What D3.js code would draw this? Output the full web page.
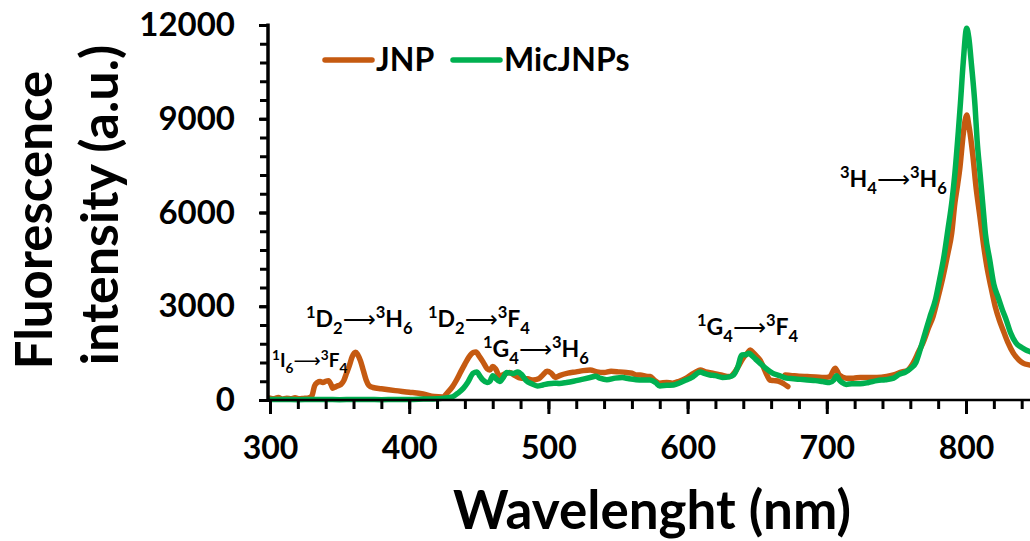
<!DOCTYPE html>
<html><head><meta charset="utf-8">
<script src="https://cdn.jsdelivr.net/npm/d3@7"></script>
<style>
html,body{margin:0;padding:0;background:#fff;}
svg{display:block;}
text{font-family:Lato,"Open Sans",sans-serif;font-weight:bold;fill:#000;}
</style></head>
<body>
<svg id="c" width="1030" height="541"></svg>
<script>
// ---- data ----
const micWavelength = [300,310,320,330,340,350,360,370,380,390,400,410,420,425,431,435,439,442,446,448.5,451,453,456,458,460,462,465,468,470,473,475,478,481,484,488,492,496,500,504,508,513,518,525,530,534,537,542,548,553,558,563,568,573,577,580,585,590,595,599,603,606,609,612,616,620,625,630,633,636,639,642,644,646,649,652,656,661,666,671,676,681,686,692,697,702,705,707,709,711,714,718,724,730,736,742,748,752,756,760,764,767,771,774,778,781,784,787,790,792,794.5,796,798,800.5,802,804,806.5,808,810,812,814,817,820,823,826,829,832,836,840,843,846,850];
const micIntensity = [20,20,10,20,20,10,20,20,10,20,20,30,40,60,100,220,380,560,860,900,750,640,560,600,780,700,590,750,880,860,850,900,800,620,520,450,480,520,540,530,560,600,670,720,760,700,650,700,720,680,650,640,640,560,450,470,480,560,640,720,820,900,850,800,780,720,740,800,1050,1440,1450,1500,1430,1300,1180,1020,860,780,700,680,660,640,620,590,560,640,780,640,560,500,520,520,560,620,650,700,820,880,1000,1200,1600,2200,2650,3200,3850,4550,5450,6400,7250,8600,9500,10800,11900,11600,10700,9400,8300,7300,6300,5300,4500,3700,3300,2900,2550,2150,1820,1680,1600,1550,1500];

const jnpWavelengthA = [300,303,306,309,312,315,318,321,324,327,330,332,334,336,338,340,342,344,345,347,349,351,353,355,357,359,361.5,363,365,367,369,371,374,380,390,400,410,418,424,428,431,434,437,440,443,446,448,450,453,456,458,460,462,465,468,472,476,480,485,489,493,496,499,502,505,508,514,520,525,530,535,540,545,551,556,560,563,566,570,573,576,580,585,589,594,599,603,606,609,613,618,624,630,634,637,640,643,645,647,650,652,655,657,659,662,666,669,672];
const jnpIntensityA = [60,40,80,30,60,40,70,40,50,60,120,450,560,590,560,600,620,480,380,420,460,500,620,860,1100,1380,1530,1450,1250,950,650,470,400,360,300,250,190,110,100,260,420,640,900,1150,1380,1520,1540,1420,1220,1000,960,1070,1000,760,820,880,780,700,680,640,680,800,920,860,720,780,860,900,940,960,900,880,920,900,880,860,800,800,760,750,640,540,560,540,600,700,820,900,960,900,860,800,750,900,1120,1350,1500,1600,1520,1380,1280,1000,800,640,620,590,520,430];
const jnpWavelengthB = [670,675,680,686,692,698,702,706,709,714,719,724,730,736,743,748,754,758,762,766,769,773,776.3,780,783.5,787,789.7,792,794,795.7,798,800.5,802,805,807,810,812.5,815,818,821,824,826.6,830,834,838,841,846,850];
const jnpIntensityB = [800,780,760,750,740,720,740,1020,800,700,700,720,720,720,750,800,900,950,1180,1550,1820,2300,2670,3300,3950,4700,5330,6300,6900,7470,8500,9120,8800,7790,6900,5870,5000,4270,3600,2990,2550,2240,1850,1500,1280,1180,1120,1080];

const xTicks = [300,400,500,600,700,800];
const yTicks = [0,3000,6000,9000,12000];
const seriesNames = ["JNP","MicJNPs"];
const seriesColors = ["#C55A11","#00B050"];

// ---- chart ----
const svg = d3.select("#c");
const x = d3.scaleLinear().domain([300,850]).range([270,1035.6]);
const y = d3.scaleLinear().domain([0,12000]).range([400,25]);

const line = d3.line().x(d=>x(d[0])).y(d=>y(d[1])).curve(d3.curveMonotoneX);
const zip = (a,b)=>a.map((v,i)=>[v,b[i]]);

const plot = svg.append("g");
[[zip(jnpWavelengthA,jnpIntensityA),0],[zip(jnpWavelengthB,jnpIntensityB),0],[zip(micWavelength,micIntensity),1]].forEach(([d,i])=>{
  plot.append("path").datum(d)
    .attr("d",line).attr("fill","none").attr("stroke",seriesColors[i]).attr("stroke-width",5.5)
    .attr("stroke-linejoin","round").attr("stroke-linecap","round");
});

// x axis
const xMinor = d3.range(300,851,20);
const gx = svg.append("g").attr("transform","translate(0,400)");
gx.call(d3.axisBottom(x).tickValues(xMinor).tickSize(9).tickFormat(""))
  .call(g=>g.select(".domain").remove())
  .call(g=>g.selectAll(".tick line").attr("stroke","#000").attr("stroke-width",3));
gx.append("g").call(d3.axisBottom(x).tickValues(xTicks).tickSize(14).tickPadding(22).tickFormat(d3.format("d")))
  .call(g=>g.select(".domain").remove())
  .call(g=>g.selectAll(".tick line").attr("stroke","#000").attr("stroke-width",3))
  .call(g=>g.selectAll(".tick text").attr("font-size",32).attr("font-family","Lato").attr("font-weight","bold").attr("fill","#000"));
gx.append("line").attr("x1",268).attr("x2",1030).attr("y1",0).attr("y2",0).attr("stroke","#000").attr("stroke-width",2.5);

// y axis
const yMinor = d3.range(0,12001,600);
const gy = svg.append("g").attr("transform","translate(268,0)");
gy.call(d3.axisLeft(y).tickValues(yMinor).tickSize(8).tickFormat(""))
  .call(g=>g.select(".domain").remove())
  .call(g=>g.selectAll(".tick line").attr("stroke","#000").attr("stroke-width",3));
gy.append("g").call(d3.axisLeft(y).tickValues(yTicks).tickSize(9).tickPadding(24).tickFormat(d3.format("d")))
  .call(g=>g.select(".domain").remove())
  .call(g=>g.selectAll(".tick line").attr("stroke","#000").attr("stroke-width",3))
  .call(g=>g.selectAll(".tick text").attr("font-size",33).attr("font-family","Lato").attr("font-weight","bold").attr("fill","#000"));
gy.append("line").attr("x1",0).attr("x2",0).attr("y1",23.5).attr("y2",402).attr("stroke","#000").attr("stroke-width",3.5);

// axis titles
svg.append("text").attr("x",652).attr("y",529).attr("text-anchor","middle").attr("font-size",53).text("Wavelenght (nm)");
svg.append("text").attr("transform","translate(52,220) rotate(-90)").attr("text-anchor","middle").attr("font-size",51).text("Fluorescence");
svg.append("text").attr("transform","translate(118,205) rotate(-90)").attr("text-anchor","middle").attr("font-size",52).text("intensity (a.u.)");

// legend
const legX = [325,453];
seriesNames.forEach((n,i)=>{
  svg.append("line").attr("x1",legX[i]).attr("x2",legX[i]+47).attr("y1",60).attr("y2",60)
    .attr("stroke",seriesColors[i]).attr("stroke-width",5.5).attr("stroke-linecap","round");
  svg.append("text").attr("x",legX[i]+51).attr("y",71).attr("font-size",32).text(n);
});

// transition annotations
const annotations = [
  {parts:[["1","sup"],["I",""],["6","sub"],["⟶","arr"],["3","sup"],["F",""],["4","sub"]], x:272, y:367, size:19},
  {parts:[["1","sup"],["D",""],["2","sub"],["⟶","arr"],["3","sup"],["H",""],["6","sub"]], x:306, y:327, size:23},
  {parts:[["1","sup"],["D",""],["2","sub"],["⟶","arr"],["3","sup"],["F",""],["4","sub"]], x:428, y:327, size:23},
  {parts:[["1","sup"],["G",""],["4","sub"],["⟶","arr"],["3","sup"],["H",""],["6","sub"]], x:483, y:357, size:23},
  {parts:[["1","sup"],["G",""],["4","sub"],["⟶","arr"],["3","sup"],["F",""],["4","sub"]], x:697, y:335, size:23},
  {parts:[["3","sup"],["H",""],["4","sub"],["⟶","arr"],["3","sup"],["H",""],["6","sub"]], x:840, y:187, size:23}
];
annotations.forEach(a=>{
  const t = svg.append("text").attr("x",a.x).attr("y",a.y).attr("font-size",a.size);
  let shift = 0;
  a.parts.forEach(p=>{
    const ts = t.append("tspan").text(p[0]);
    let target = 0;
    if(p[1]==="sup"){ ts.attr("font-size",a.size*0.72); target = -a.size*0.38; }
    else if(p[1]==="sub"){ ts.attr("font-size",a.size*0.72); target = a.size*0.3; }
    else if(p[1]==="arr"){ ts.attr("font-weight","normal").attr("font-family","DejaVu Sans"); target = 0; }
    ts.attr("dy", target - shift); shift = target;
  });
});
</script>
</body></html>
